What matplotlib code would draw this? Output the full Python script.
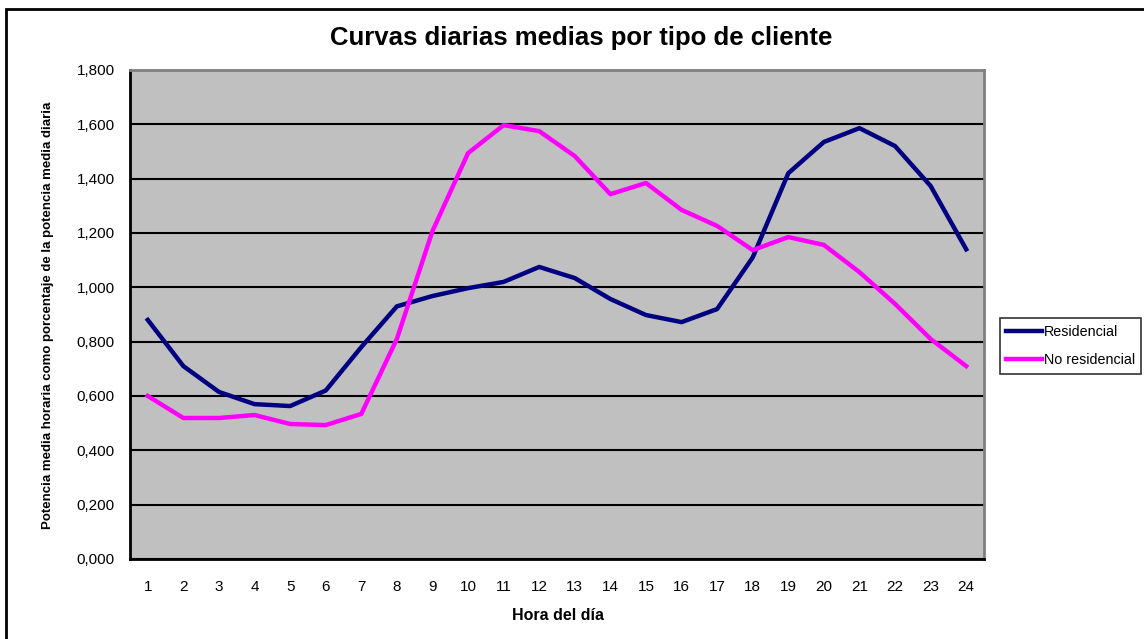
import matplotlib.pyplot as plt
from matplotlib.patches import Rectangle
from matplotlib.ticker import FuncFormatter

plt.rcParams['font.family'] = ['Liberation Sans', 'DejaVu Sans']

horas = list(range(1, 25))
residencial = [0.88, 0.71, 0.615, 0.57, 0.563, 0.62, 0.78, 0.93, 0.968, 0.997, 1.02, 1.075,
               1.034, 0.957, 0.898, 0.872, 0.92, 1.11, 1.42, 1.535, 1.586, 1.52, 1.373, 1.14]
no_residencial = [0.60, 0.519, 0.519, 0.53, 0.497, 0.493, 0.534, 0.81, 1.207, 1.494, 1.597, 1.575,
                  1.483, 1.343, 1.384, 1.285, 1.226, 1.137, 1.185, 1.156, 1.056, 0.939, 0.81, 0.71]

W, H = 1144, 639
fig = plt.figure(figsize=(W / 100, H / 100), dpi=100)
ax = fig.add_axes([130 / W, 1 - 559 / H, (984 - 130) / W, (559 - 70) / H])

# outer chart frame
fig.patches.append(Rectangle((6 / W, -0.05), 1.1, 1 - 9 / H + 0.05, transform=fig.transFigure,
                             fill=False, edgecolor='black', linewidth=2))

ax.set_facecolor('#C0C0C0')
ax.plot(horas, residencial, color='#000080', linewidth=3.2, label='Residencial')
ax.plot(horas, no_residencial, color='#FF00FF', linewidth=3.2, label='No residencial')

ax.set_xlim(0.5, 24.5)
ax.set_ylim(0, 1.8)
ax.set_xticks(horas)
ax.set_yticks([i * 0.2 for i in range(10)])
ax.yaxis.set_major_formatter(FuncFormatter(lambda v, p: f"{v:.3f}".replace('.', ',')))
ax.tick_params(length=0, labelsize=11)
ax.tick_params(axis='x', pad=15)
ax.tick_params(axis='y', pad=11)
ax.grid(axis='y', color='black', linewidth=1.5)
ax.set_axisbelow(True)

for s in ['left', 'bottom']:
    ax.spines[s].set_linewidth(2)
    ax.spines[s].set_color('black')
for s in ['top', 'right']:
    ax.spines[s].set_linewidth(2)
    ax.spines[s].set_color('#808080')

fig.text(581 / W, 1 - 38 / H, 'Curvas diarias medias por tipo de cliente', ha='center', va='center',
         fontsize=18.5, fontweight='bold')
fig.text(558 / W, 1 - 615 / H, 'Hora del día', ha='center', va='center', fontsize=11.5, fontweight='bold')
fig.text(48 / W, 1 - 315 / H, 'Potencia media horaria como porcentaje de la potencia media diaria',
         ha='center', va='center', rotation=90, fontsize=9.5, fontweight='bold')

leg = fig.legend(loc='center left', bbox_to_anchor=(1000 / W, 1 - 346 / H), fontsize=10.3,
                 frameon=True, fancybox=False, edgecolor='black', handlelength=2.5,
                 handletextpad=0.1, borderpad=0.45, labelspacing=1.0, borderaxespad=0)
leg.get_frame().set_linewidth(1.2)

fig.savefig('out.png', dpi=100)
